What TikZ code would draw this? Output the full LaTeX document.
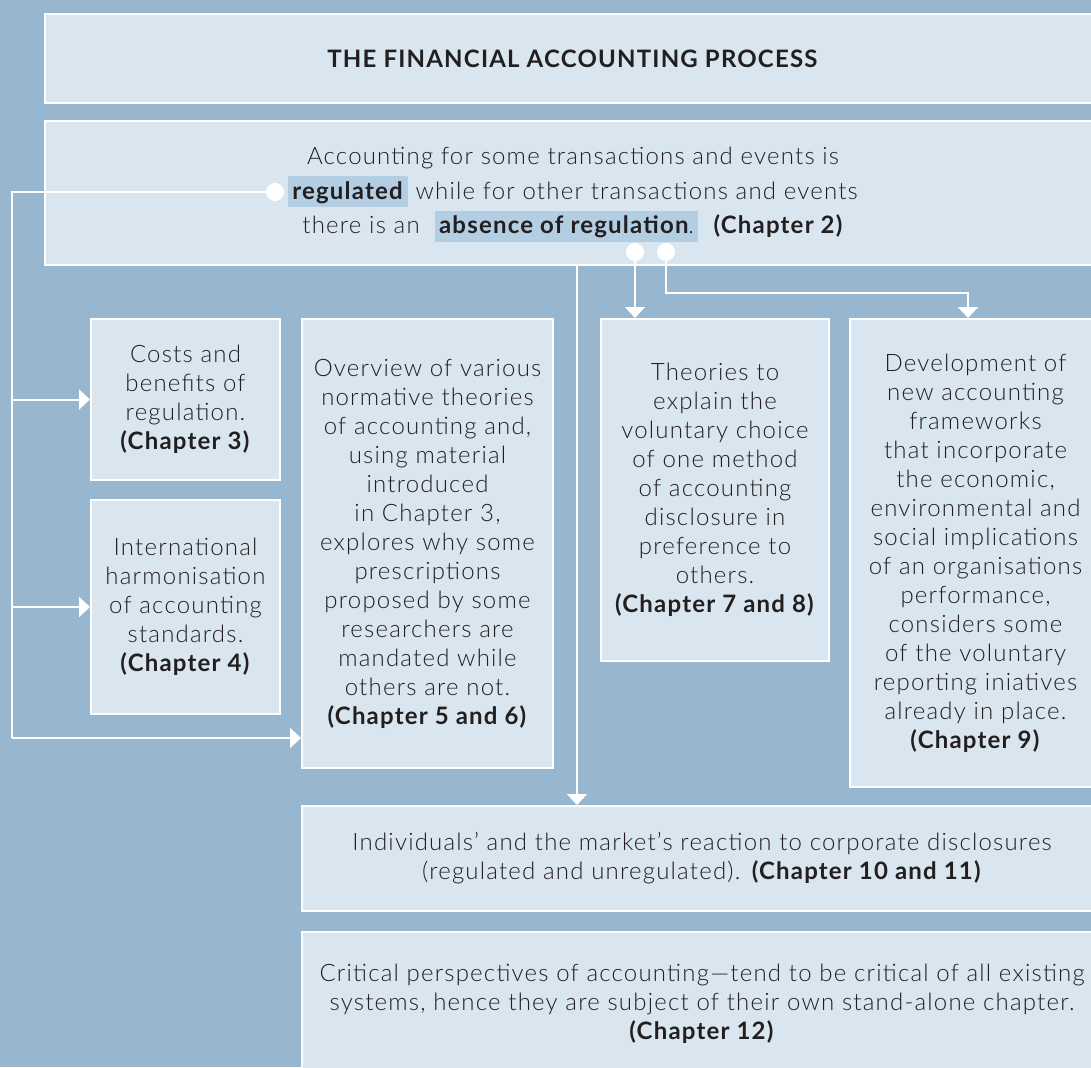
\documentclass[tikz,border=0pt]{standalone}
\usepackage{fontspec}
\IfFontExistsTF{Lato Light}
  {\setmainfont{Lato Light}[BoldFont={Lato Bold}, LetterSpace=5]}
  {\setmainfont{Lato}[LetterSpace=5]}
\usetikzlibrary{arrows.meta}
\definecolor{bgc}{HTML}{97B7D0}
\definecolor{boxc}{HTML}{D9E6EF}
\definecolor{hlc}{HTML}{B3CDE2}
\definecolor{txtc}{HTML}{231F20}
\newcommand\hlbox[1]{{\setlength\fboxsep{0pt}\colorbox{hlc}{\rule[-8pt]{0pt}{31pt}\hspace{4pt}#1\hspace{4pt}}}}
\tikzset{
  boxnode/.style={draw=white, line width=2pt, fill=boxc, text=txtc, align=center, inner sep=0pt,
    anchor=north west, font=\fontsize{24}{29}\selectfont},
  dotnode/.style={circle, fill=white, inner sep=0pt, minimum size=18pt},
  conn/.style={draw=white, line width=2pt},
  arr/.style={conn, -{Triangle[width=20pt,length=11pt]}}
}
\begin{document}
\begin{tikzpicture}[x=1pt,y=-1pt]
\useasboundingbox (0,0) rectangle (1091,1067);
\clip (0,0) rectangle (1091,1067);
\fill[bgc] (0,0) rectangle (1091,1067);

\node[boxnode, minimum width=1056pt, minimum height=89pt] (title) at (44,13)
  {\textbf{THE FINANCIAL ACCOUNTING PROCESS}};
\node[boxnode, minimum width=1056pt, minimum height=144pt, font=\fontsize{24}{34.5}\selectfont] (reg) at (44,120)
  {\rule{0pt}{20pt}Accounting for some transactions and events is\\
   \hlbox{\textbf{regulated}}\ while for other transactions and events\\
   there is an \ \hlbox{\textbf{absence of regulation}.}\ \ \textbf{(Chapter 2)}};
\node[boxnode, minimum width=189pt, minimum height=161pt] (costs) at (90,318)
  {Costs and\\benefits of\\regulation.\\\textbf{(Chapter 3)}};
\node[boxnode, minimum width=189pt, minimum height=214pt] (intl) at (90,499)
  {International\\harmonisation\\of accounting\\standards.\\\textbf{(Chapter 4)}};
\node[boxnode, minimum width=251pt, minimum height=449pt] (over) at (301,318)
  {Overview of various\\normative theories\\of accounting and,\\using material\\introduced\\in Chapter 3,\\explores why some\\prescriptions\\proposed by some\\researchers are\\mandated while\\others are not.\\\textbf{(Chapter 5 and 6)}};
\node[boxnode, minimum width=228pt, minimum height=342pt] (theo) at (600,318)
  {Theories to\\explain the\\voluntary choice\\of one method\\of accounting\\disclosure in\\preference to\\others.\\\textbf{(Chapter 7 and 8)}};
\node[boxnode, minimum width=251pt, minimum height=468pt] (dev) at (849,318)
  {Development of\\new accounting\\frameworks\\that incorporate\\the economic,\\environmental and\\social implications\\of an organisations\\performance,\\considers some\\of the voluntary\\reporting iniatives\\already in place.\\\textbf{(Chapter 9)}};
\node[boxnode, minimum width=800pt, minimum height=105pt] (indiv) at (301,805)
  {Individuals’ and the market’s reaction to corporate disclosures\\(regulated and unregulated). \textbf{(Chapter 10 and 11)}};
\node[boxnode, minimum width=800pt, minimum height=144pt] (crit) at (301,931)
  {Critical perspectives of accounting—tend to be critical of all existing\\systems, hence they are subject of their own stand-alone chapter.\\\textbf{(Chapter 12)}};

\coordinate (c1) at (12,192);
\coordinate (c2) at (12,738);
\coordinate (c3) at (968,293);
\coordinate (c4) at (577,264);

\draw[conn] (275,192) -- (c1) -- (c2);
\draw[arr] (c2) -- (c2 -| over.west);
\draw[arr] (c1 |- costs.west) -- (costs.west);
\draw[arr] (c1 |- intl.west) -- (intl.west);
\draw[arr] (635,252) -- (635,318);
\draw[arr] (666,252) |- (c3) -- (c3 |- dev.north);
\draw[arr] (c4) -- (c4 |- indiv.north);

\node[dotnode] (d1) at (275,192) {};
\node[dotnode] (d2) at (635,252) {};
\node[dotnode] (d3) at (666,252) {};
\end{tikzpicture}
\end{document}
